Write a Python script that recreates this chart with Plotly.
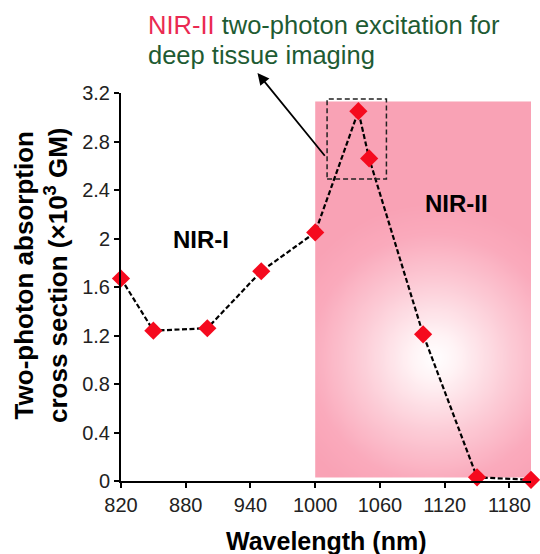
import numpy as np
import plotly.graph_objects as go

# ---- data ----
wavelength = [820, 850, 900, 950, 1000, 1040, 1050, 1100, 1150, 1200]
cross_section = [1.67, 1.24, 1.26, 1.73, 2.05, 3.05, 2.66, 1.21, 0.03, 0.01]
x_ticks = [820, 880, 940, 1000, 1060, 1120, 1180]
y_ticks = [0, 0.4, 0.8, 1.2, 1.6, 2.0, 2.4, 2.8, 3.2]
y_tick_text = ["0", "0.4", "0.8", "1.2", "1.6", "2", "2.4", "2.8", "3.2"]
nir2_band = [1000, 1200]        # NIR-II shaded window (nm)
nir2_band_y = [0.03, 3.13]
peak_box_x = [1011, 1066]
peak_box_y = [2.49, 3.15]

W, H = 540, 554
L, R, T, B = 121, 531, 93, 481
XR = [820, 1200]
YR = [0, 3.2]


def px(x):
    return (x - L) / (R - L)


def py(y):
    return (B - y) / (B - T)


FONT = "Arial, Liberation Sans, sans-serif"
PINK = "#F9A2B5"
GREEN = "#1E5B33"
RED_TXT = "#EA2A52"

# radial white glow in the NIR-II band (decorative background)
nx, ny = 100, 120
xe = np.linspace(nir2_band[0], nir2_band[1], nx + 1)
ye = np.linspace(nir2_band_y[0], nir2_band_y[1], ny + 1)
xc = (xe[:-1] + xe[1:]) / 2
yc = (ye[:-1] + ye[1:]) / 2
sx = (R - L) / (XR[1] - XR[0])
sy = (B - T) / (YR[1] - YR[0])
XX, YY = np.meshgrid(xc, yc)
dist = np.sqrt(((XX - 1110) * sx) ** 2 + ((YY - 1.02) * sy) ** 2) / 155.0
zz = np.clip(dist, 0, 1)

fig = go.Figure()
fig.add_trace(go.Heatmap(
    x=xc, y=yc, z=zz, zmin=0, zmax=1, zsmooth="best", showscale=False,
    hoverinfo="skip",
    colorscale=[[0, "#FFFFFF"], [0.15, "#FFF3F5"], [0.5, "#FCCAD5"], [0.8, "#FAAABC"], [1, PINK]],
))
fig.add_trace(go.Scatter(
    x=wavelength, y=cross_section, mode="lines+markers", cliponaxis=False,
    line=dict(color="black", width=2.2, dash="5px,2.5px"),
    marker=dict(symbol="diamond", size=14, color="#F50A1E", line=dict(width=0)),
    showlegend=False,
))

fig.add_shape(type="rect", xref="x", yref="y",
              x0=peak_box_x[0], x1=peak_box_x[1], y0=peak_box_y[0], y1=peak_box_y[1],
              line=dict(color="#222", width=1.5, dash="5px,3px"), fillcolor="rgba(0,0,0,0)",
              layer="above")

ann = []
ann.append(dict(xref="paper", yref="paper", x=px(146), y=py(25), xanchor="left", yanchor="middle",
                text=f"<span style='color:{RED_TXT}'>NIR-II</span> two-photon excitation for",
                showarrow=False, font=dict(family=FONT, size=25.5, color=GREEN)))
ann.append(dict(xref="paper", yref="paper", x=px(146), y=py(55), xanchor="left", yanchor="middle",
                text="deep tissue imaging",
                showarrow=False, font=dict(family=FONT, size=25.5, color=GREEN)))
ann.append(dict(x=946.5, y=3.365, ax=1010, ay=2.67, xref="x", yref="y", axref="x", ayref="y",
                text="", showarrow=True, arrowhead=2, arrowsize=1.3, arrowwidth=1.8,
                arrowcolor="black"))
ann.append(dict(x=894, y=1.99, xref="x", yref="y", text="<b>NIR-I</b>", showarrow=False,
                font=dict(family=FONT, size=24, color="black")))
ann.append(dict(x=1131, y=2.29, xref="x", yref="y", text="<b>NIR-II</b>", showarrow=False,
                font=dict(family=FONT, size=24, color="black")))
ann.append(dict(xref="paper", yref="paper", x=px(41), y=py(275), textangle=-90,
                xanchor="center", yanchor="middle",
                text="<b>Two-photon absorption<br>cross section (×10<sup>3</sup> GM)</b>",
                showarrow=False, font=dict(family=FONT, size=26, color="black")))
ann.append(dict(xref="paper", yref="paper", x=px(326), y=py(541), xanchor="center",
                yanchor="middle", text="<b>Wavelength (nm)</b>",
                showarrow=False, font=dict(family=FONT, size=25, color="black")))

fig.update_layout(
    width=W, height=H,
    margin=dict(l=L, r=W - R, t=T, b=H - B, pad=0),
    paper_bgcolor="white", plot_bgcolor="white",
    annotations=ann, showlegend=False,
    font=dict(family=FONT, color="#222"),
)
fig.update_xaxes(range=XR, tickvals=x_ticks, ticks="outside", ticklen=5, tickwidth=1.5,
                 tickcolor="black", showline=True, linecolor="black", linewidth=2,
                 showgrid=False, zeroline=False, tickfont=dict(size=20, color="#222", family=FONT))
fig.update_yaxes(range=YR, tickvals=y_ticks, ticktext=y_tick_text, ticks="outside", ticklen=5,
                 tickwidth=1.5, tickcolor="black", showline=True, linecolor="black", linewidth=2,
                 showgrid=False, zeroline=False, tickfont=dict(size=20, color="#222", family=FONT))

fig.write_html(
    "out.html",
    config={"displayModeBar": False},
    post_script="document.body.style.margin='0px';"
                "document.documentElement.style.overflow='hidden';"
                "document.body.style.overflow='hidden';",
)
